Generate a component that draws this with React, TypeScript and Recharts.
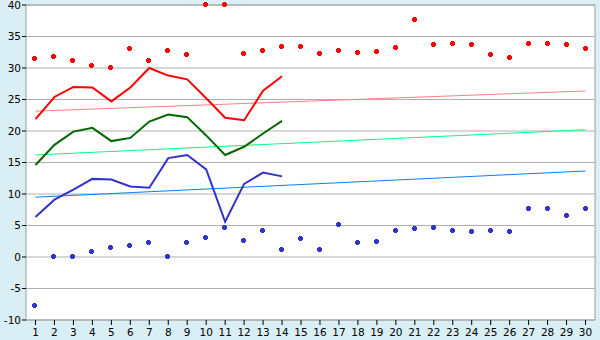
import React from "react";
import {
  ComposedChart,
  Line,
  Scatter,
  XAxis,
  YAxis,
  CartesianGrid,
  ReferenceLine,
} from "recharts";

const days = Array.from({ length: 30 }, (_, i) => i + 1);

const maxTemp = [21.9, 25.4, 27.0, 26.9, 24.7, 26.9, 30.0, 28.8, 28.2, 25.2, 22.1, 21.7, 26.4, 28.7];
const meanTemp = [14.6, 17.8, 19.9, 20.5, 18.4, 18.9, 21.5, 22.6, 22.2, 19.3, 16.2, 17.5, 19.6, 21.6];
const minTemp = [6.35, 9.1, 10.7, 12.4, 12.3, 11.2, 11.0, 15.7, 16.2, 13.9, 5.6, 11.6, 13.4, 12.8];

const recordHigh = [
  31.4, 31.7, 31.1, 30.3, 30.0, 33.0, 31.1, 32.7, 32.1, 40.0,
  40.0, 32.3, 32.7, 33.3, 33.3, 32.2, 32.7, 32.4, 32.5, 33.2,
  37.6, 33.7, 33.8, 33.7, 32.1, 31.6, 33.8, 33.8, 33.7, 33.0,
];
const recordLow = [
  -7.8, 0.0, 0.0, 0.8, 1.4, 1.75, 2.2, 0.0, 2.2, 3.0,
  4.6, 2.5, 4.1, 1.1, 2.85, 1.1, 5.1, 2.2, 2.4, 4.1,
  4.45, 4.6, 4.1, 3.95, 4.1, 3.95, 7.6, 7.6, 6.5, 7.6,
];

// trend lines: endpoints at day 1 and day 30
const trendMaxEnds = [23.15, 26.35];
const trendMeanEnds = [16.2, 20.2];
const trendMinEnds = [9.5, 13.65];

const yTicks = [-10, -5, 0, 5, 10, 15, 20, 25, 30, 35, 40];

const data = days.map((d, i) => ({
  day: d,
  maxT: i < maxTemp.length ? maxTemp[i] : null,
  meanT: i < meanTemp.length ? meanTemp[i] : null,
  minT: i < minTemp.length ? minTemp[i] : null,
  recHigh: recordHigh[i],
  recLow: recordLow[i],
  trMax: i === 0 ? trendMaxEnds[0] : i === days.length - 1 ? trendMaxEnds[1] : null,
  trMean: i === 0 ? trendMeanEnds[0] : i === days.length - 1 ? trendMeanEnds[1] : null,
  trMin: i === 0 ? trendMinEnds[0] : i === days.length - 1 ? trendMinEnds[1] : null,
}));

const makePlus = (color: string) => (props: any) => {
  const { cx, cy } = props;
  if (cx == null || cy == null) return <g />;
  const x = Math.round(cx) - 0.5;
  const y = Math.round(cy) - 0.5;
  const d = `M${x - 1.5},${y - 2.5} h3 v1 h1 v3 h-1 v1 h-3 v-1 h-1 v-3 h1 Z`;
  return <path d={d} fill={color} stroke="none" shapeRendering="crispEdges" />;
};

const tickStyle = { fontSize: 10.5, fill: "#000", fontFamily: "DejaVu Sans, Verdana, sans-serif" };

export default function App() {
  return (
    <div style={{ position: "absolute", left: 0, top: 0, width: 600, height: 340, background: "#DAEEF5" }}>
      <ComposedChart
        width={600}
        height={340}
        data={data}
        margin={{ top: 5, right: 5, left: 0, bottom: 0 }}
      >
        <CartesianGrid vertical={false} stroke="#B0B0B0" fill="#FFFFFF" strokeWidth={1} />
        <XAxis
          dataKey="day"
          type="number"
          domain={[0.5, 30.5]}
          ticks={days}
          interval={0}
          height={20}
          tick={tickStyle}
          tickLine={{ stroke: "#000" }}
          tickSize={5}
          tickMargin={4}
          axisLine={{ stroke: "#A0A0A0" }}
        />
        <YAxis
          type="number"
          domain={[-10, 40]}
          ticks={yTicks}
          interval={0}
          width={26}
          tick={tickStyle}
          tickLine={{ stroke: "#000" }}
          tickSize={4}
          tickMargin={1}
          axisLine={{ stroke: "#A0A0A0" }}
        />
        <ReferenceLine x={30.5} stroke="#A0A0A0" />
        <ReferenceLine y={40} stroke="#A0A0A0" />
        <Line dataKey="trMax" stroke="#FF8080" strokeWidth={1} dot={false} connectNulls isAnimationActive={false} />
        <Line dataKey="trMean" stroke="#00FF80" strokeWidth={1} dot={false} connectNulls isAnimationActive={false} />
        <Line dataKey="trMin" stroke="#0080FF" strokeWidth={1} dot={false} connectNulls isAnimationActive={false} />
        <Line dataKey="maxT" stroke="#FF0000" strokeWidth={2} dot={false} isAnimationActive={false} />
        <Line dataKey="meanT" stroke="#006600" strokeWidth={2} dot={false} isAnimationActive={false} />
        <Line dataKey="minT" stroke="#3333CC" strokeWidth={2} dot={false} isAnimationActive={false} />
        <Scatter dataKey="recHigh" shape={makePlus("#FF0000")} isAnimationActive={false} />
        <Scatter dataKey="recLow" shape={makePlus("#3333CC")} isAnimationActive={false} />
      </ComposedChart>
    </div>
  );
}
